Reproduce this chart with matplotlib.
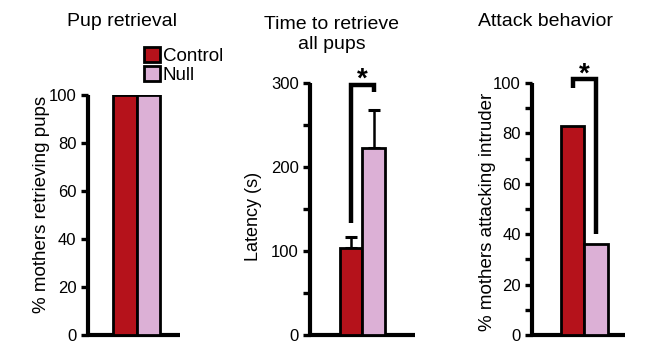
import matplotlib
matplotlib.use("Agg")
import matplotlib.pyplot as plt
from matplotlib.ticker import MultipleLocator

plt.rcParams['font.family'] = ['Liberation Sans', 'DejaVu Sans']

# data
groups = ['Control', 'Null']
retrieval_pct = [100, 100]
latency_mean = [104, 223]
latency_err = [13, 45]
attack_pct = [83, 36]

# significance brackets (y values of left leg bottom, top, right leg bottom)
latency_bracket = [133, 298, 289]
attack_bracket = [98, 101.5, 40]

colors = ['#b5121b', '#dcb0d6']
W, H = 669, 353

fig = plt.figure(figsize=(W / 100, H / 100), dpi=100)


def px_axes(left, top, right, bottom):
    return fig.add_axes([left / W, 1 - bottom / H, (right - left) / W, (bottom - top) / H])


def style(ax, ymax, major, minor=None):
    for s in ['top', 'right']:
        ax.spines[s].set_visible(False)
    for s in ['left', 'bottom']:
        ax.spines[s].set_linewidth(3)
        ax.spines[s].set_capstyle('butt')
    ax.set_ylim(0, ymax)
    ax.yaxis.set_major_locator(MultipleLocator(major))
    if minor:
        ax.yaxis.set_minor_locator(MultipleLocator(minor))
    ax.tick_params(axis='y', which='both', direction='out', length=5, width=2.4,
                   labelsize=12, pad=3)
    ax.tick_params(axis='x', bottom=False, labelbottom=False)


def draw_bars(ax, vals):
    return ax.bar([0, 1], vals, width=1.0, color=colors, edgecolor='black',
                  linewidth=2, zorder=3)


def bracket(ax, ys, star_y):
    ax.plot([0, 0, 1, 1], [ys[0], ys[1], ys[1], ys[2]], color='black', lw=3.2,
            solid_joinstyle='miter', solid_capstyle='butt', clip_on=False, zorder=4)
    ax.text(0.5, star_y, '*', ha='center', va='center', fontsize=20,
            fontweight='bold', clip_on=False)


# panel 1: pup retrieval
ax1 = px_axes(87.5, 95, 180, 335)
bars = draw_bars(ax1, retrieval_pct)
style(ax1, 100, 20)
ax1.set_xlim(-1.6, 2.34)
ax1.set_ylabel('% mothers retrieving pups', fontsize=13.5, va='center')
ax1.yaxis.set_label_coords(-0.497, 0.545)
ax1.legend(bars, groups, loc='upper left', bbox_to_anchor=(144 / W, 1 - 47 / H),
           bbox_transform=fig.transFigure, frameon=False, borderpad=0,
           borderaxespad=0, handlelength=0.85, handleheight=0.85,
           handletextpad=0.15, labelspacing=0.05, fontsize=13.5)

# panel 2: latency
ax2 = px_axes(310, 83, 415, 335)
draw_bars(ax2, latency_mean)
ax2.errorbar([0, 1], latency_mean, yerr=[[0, 0], latency_err], fmt='none',
             ecolor='black', elinewidth=1.8, capsize=4.2, capthick=2.2, zorder=2)
style(ax2, 300, 100, 50)
ax2.set_xlim(-1.82, 2.84)
ax2.set_ylabel('Latency (s)', fontsize=13, va='center')
ax2.yaxis.set_label_coords(-0.54, 0.47)
bracket(ax2, latency_bracket, 304)

# panel 3: attack behavior
ax3 = px_axes(532, 83, 625, 335)
draw_bars(ax3, attack_pct)
style(ax3, 100, 20, 10)
ax3.set_xlim(-1.78, 2.26)
ax3.set_ylabel('% mothers attacking intruder', fontsize=13.5, va='center')
ax3.yaxis.set_label_coords(-0.48, 0.49)
bracket(ax3, attack_bracket, 103.5)

# titles
fig.text(122 / W, 1 - 26 / H, 'Pup retrieval', ha='center', va='baseline', fontsize=14)
fig.text(332 / W, 1 - 49 / H, 'Time to retrieve\nall pups', ha='center', va='baseline',
         fontsize=14, multialignment='center')
fig.text(545 / W, 1 - 26 / H, 'Attack behavior', ha='center', va='baseline', fontsize=14)

fig.savefig('out.png', dpi=100)
